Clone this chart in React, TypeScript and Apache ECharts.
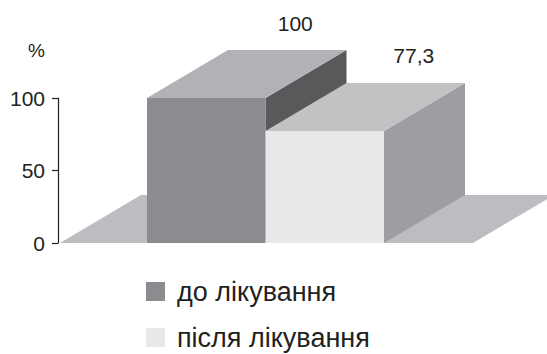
import React, { useEffect, useRef } from "react";
import * as echarts from "echarts";

const categories = ["до лікування", "після лікування"];
const values = [100, 77.3];
const yTicks = { min: 0, max: 100, interval: 50 };
const axisTitle = "%";

const FRONT = ["#8b8c90", "#e7e8ea"];
const TOP = ["#b1b2b5", "#c1c2c4"];
const SIDE = ["#58595b", "#9d9ea1"];
const FLOOR = "#bcbdc0";
const DX = 81;
const DY = -48;
const FONT = "'Liberation Sans', Arial, sans-serif";
const TEXT = "#231f20";
const LEGEND_TOPS = [278, 324];

export default function App() {
  const ref = useRef<HTMLDivElement>(null);
  useEffect(() => {
    document.body.style.margin = "0";
    const chart = echarts.init(ref.current!, null, { renderer: "svg" });
    const barSeries = categories.map((name, i) => ({
      name,
      type: "custom",
      clip: false,
      itemStyle: { color: FRONT[i] },
      encode: { x: 0, y: 1 },
      data: [[i, values[i]]],
      renderItem: (params: any, api: any) => {
        const idx = api.value(0);
        const v = api.value(1);
        const top = api.coord([idx, v]);
        const base = api.coord([idx, 0]);
        const w = api.size([1, 0])[0];
        const x0 = top[0] - w / 2;
        const x1 = top[0] + w / 2;
        const yT = top[1];
        const yB = base[1];
        const label = String(v).replace(".", ",");
        return {
          type: "group",
          children: [
            {
              type: "polygon",
              shape: { points: [[x1, yT], [x1 + DX, yT + DY], [x1 + DX, yB + DY], [x1, yB]] },
              style: { fill: SIDE[i] },
            },
            {
              type: "polygon",
              shape: { points: [[x0, yT], [x1, yT], [x1 + DX, yT + DY], [x0 + DX, yT + DY]] },
              style: { fill: TOP[i] },
            },
            {
              type: "rect",
              shape: { x: x0, y: yT, width: w, height: yB - yT },
              style: { fill: FRONT[i] },
            },
            {
              type: "text",
              style: {
                text: label,
                x: (x0 + x1) / 2 + DX + 8,
                y: yT + DY - 27,
                align: "center",
                verticalAlign: "middle",
                fill: TEXT,
                fontSize: 21,
                fontFamily: FONT,
              },
            },
          ],
        };
      },
    }));
    const floorSeries = {
      name: "floor",
      type: "custom",
      clip: false,
      silent: true,
      data: [[0, 0]],
      encode: { x: 0, y: 1 },
      renderItem: (params: any, api: any) => {
        const cs = params.coordSys;
        const yF = cs.y + cs.height;
        const xl = cs.x - 87;
        const xr = cs.x + cs.width + 89;
        return {
          type: "polygon",
          shape: { points: [[xl, yF], [xr, yF], [xr + DX, yF + DY], [xl + DX, yF + DY]] },
          style: { fill: FLOOR },
        };
      },
    };
    chart.setOption({
      animation: false,
      grid: { left: 147, right: 163, top: 98, bottom: 111 },
      xAxis: {
        type: "category",
        data: categories,
        axisLine: { show: false },
        axisTick: { show: false },
        axisLabel: { show: false },
      },
      yAxis: {
        type: "value",
        min: yTicks.min,
        max: yTicks.max,
        interval: yTicks.interval,
        offset: 89,
        name: axisTitle,
        nameLocation: "end",
        nameGap: 38,
        nameTextStyle: { color: TEXT, fontSize: 19, fontFamily: FONT, align: "right", padding: [0, 13, 0, 0] },
        axisLine: { show: true, lineStyle: { color: "#231f20", width: 1.2 } },
        axisTick: { show: true, length: 6, lineStyle: { color: "#231f20", width: 1.2 } },
        axisLabel: { color: TEXT, fontSize: 21, fontFamily: FONT, margin: 13 },
        splitLine: { show: false },
      },
      legend: categories.map((name, i) => ({
        data: [name],
        orient: "vertical",
        left: 146,
        top: LEGEND_TOPS[i],
        padding: 0,
        itemWidth: 19,
        itemHeight: 19,
        icon: "rect",
        selectedMode: false,
        textStyle: { color: TEXT, fontSize: 27, fontFamily: FONT, padding: [0, 0, 0, 7] },
      })),
      series: [floorSeries, ...barSeries],
    });
    return () => chart.dispose();
  }, []);
  return <div ref={ref} style={{ position: "absolute", left: 0, top: 0, width: 547, height: 354 }} />;
}
